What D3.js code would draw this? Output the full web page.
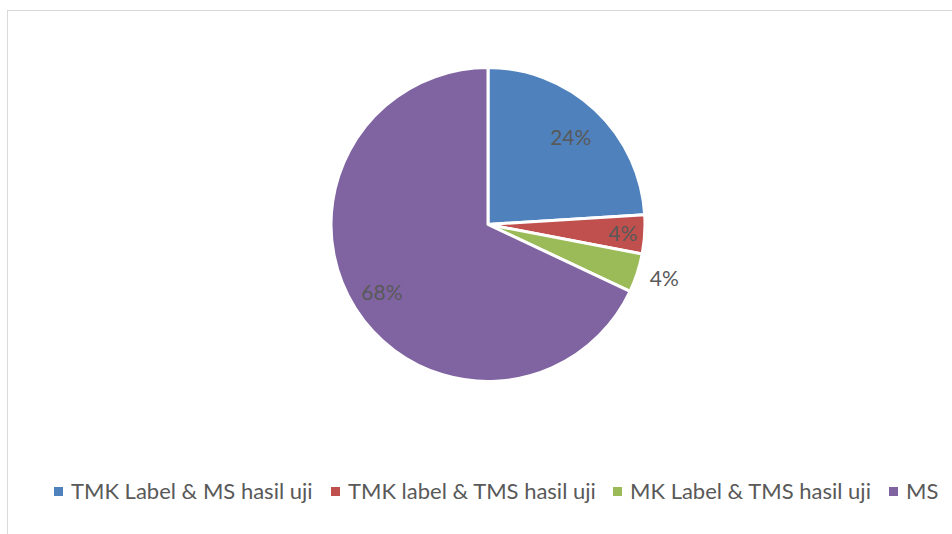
<!DOCTYPE html>
<html>
<head>
<meta charset="utf-8">
<script src="https://cdn.jsdelivr.net/npm/d3@7"></script>
<style>
  body { margin: 0; background: #fff; }
  svg { display: block; }
</style>
</head>
<body>
<svg id="chart" width="952" height="534"></svg>
<script>
const categories = ['TMK Label & MS hasil uji', 'TMK label & TMS hasil uji', 'MK Label & TMS hasil uji', 'MS']
const values = [24, 4, 4, 68]
const colors = ['#4f81bd', '#c0504d', '#9bbb59', '#8064a2']

// label distance from centre, as a share of the radius (the green one sits outside)
const labelRadius = [0.77, 0.86, 1.1, 0.8]

const svg = d3.select('#chart')
const width = +svg.attr('width')
const height = +svg.attr('height')
const font = 'Lato, Carlito, Calibri, sans-serif'

// chart area border
svg.append('rect')
  .attr('x', 7.5)
  .attr('y', 10.5)
  .attr('width', width)
  .attr('height', height)
  .attr('fill', 'none')
  .attr('stroke', '#d9d9d9')
  .attr('stroke-width', 1)

const cx = 488, cy = 224.5, r = 157

const pie = d3.pie().sort(null).value(d => d)
const arcs = pie(values)
const arc = d3.arc().innerRadius(0).outerRadius(r)

const g = svg.append('g').attr('transform', `translate(${cx},${cy})`)

g.selectAll('path')
  .data(arcs)
  .enter()
  .append('path')
    .attr('d', arc)
    .attr('fill', (d, i) => colors[i])
    .attr('stroke', '#fff')
    .attr('stroke-width', 3)
    .attr('stroke-linejoin', 'round')

const total = d3.sum(values)
g.selectAll('text')
  .data(arcs)
  .enter()
  .append('text')
    .attr('transform', (d, i) => {
      const a = (d.startAngle + d.endAngle) / 2
      const lr = r * labelRadius[i]
      let x = Math.sin(a) * lr
      const y = -Math.cos(a) * lr
      if (labelRadius[i] > 1) x += 12
      return `translate(${x},${y})`
    })
    .attr('text-anchor', 'middle')
    .attr('dominant-baseline', 'central')
    .style('font-family', font)
    .style('font-size', '21px')
    .style('fill', '#595959')
    .text(d => Math.round(d.value / total * 100) + '%')

// Legend
const legendX = [54, 331, 613, 889]
const legendY = 491.5
const legend = svg.append('g')

legend.selectAll('rect')
  .data(categories)
  .enter()
  .append('rect')
    .attr('x', (d, i) => legendX[i])
    .attr('y', legendY - 4.5)
    .attr('width', 9)
    .attr('height', 9)
    .attr('fill', (d, i) => colors[i])

legend.selectAll('text')
  .data(categories)
  .enter()
  .append('text')
    .attr('x', (d, i) => legendX[i] + 17)
    .attr('y', 499)
    .style('font-family', font)
    .style('font-size', '22px')
    .style('fill', '#595959')
    .text(d => d)
</script>
</body>
</html>
